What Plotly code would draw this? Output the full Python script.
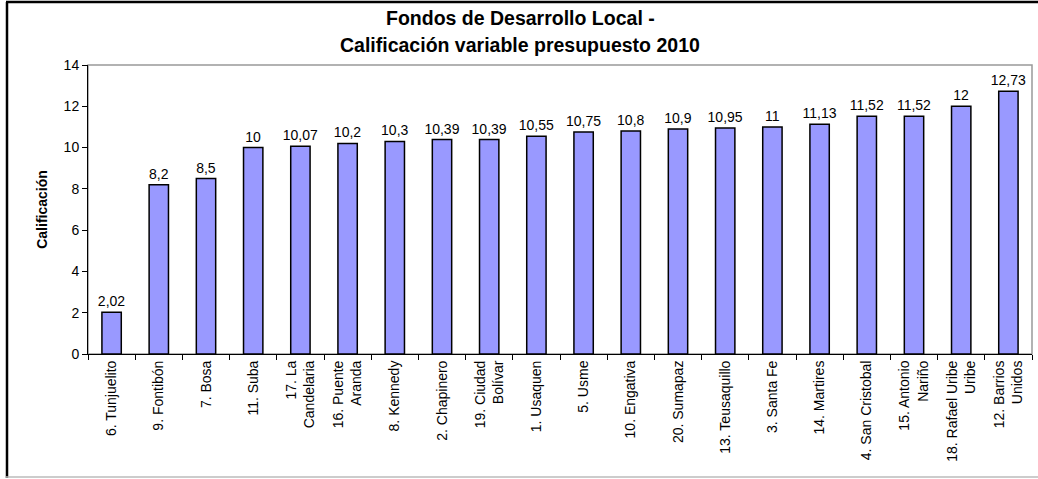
import plotly.graph_objects as go

categories = ["6. Tunjuelito", "9. Fontibón", "7. Bosa", "11. Suba", "17. La<br>Candelaria",
              "16. Puente<br>Aranda", "8. Kennedy", "2. Chapinero", "19. Ciudad<br>Bolívar",
              "1. Usaquen", "5. Usme", "10. Engativa", "20. Sumapaz", "13. Teusaquillo",
              "3. Santa Fe", "14. Martires", "4. San Cristobal", "15. Antonio<br>Nariño",
              "18. Rafael Uribe<br>Uribe", "12. Barrios<br>Unidos"]
values = [2.02, 8.2, 8.5, 10, 10.07, 10.2, 10.3, 10.39, 10.39, 10.55, 10.75, 10.8, 10.9,
          10.95, 11, 11.13, 11.52, 11.52, 12, 12.73]
y_ticks = [0, 2, 4, 6, 8, 10, 12, 14]
title_lines = ["Fondos de Desarrollo Local -", "Calificación variable presupuesto 2010"]
y_title = "Calificación"

labels = [f"{v:g}".replace(".", ",") for v in values]

W, H = 1038, 479
L, R, T, B = 88, 6, 65, 125
pw, ph = W - L - R, H - T - B

def px_x(p):
    return (p - L) / pw

def px_y(p):
    return (H - B - p) / ph

FONT = "Liberation Sans, Arial, sans-serif"

fig = go.Figure(go.Bar(
    x=categories, y=values, text=labels, textposition="outside",
    textfont=dict(family=FONT, size=14, color="black"),
    constraintext="none", cliponaxis=False,
    marker=dict(color="#9999FF", line=dict(color="black", width=1.5)),
))

fig.update_layout(
    width=W, height=H, margin=dict(l=L, r=R, t=T, b=B, autoexpand=False),
    paper_bgcolor="white", plot_bgcolor="white", bargap=0.59, showlegend=False,
    font=dict(family=FONT, color="black"),
)
fig.update_xaxes(tickangle=-90, tickfont=dict(size=14, family=FONT), showline=True,
                 linecolor="black", linewidth=1, ticks="outside", tickson="boundaries",
                 ticklen=5, tickcolor="black", showgrid=False, fixedrange=True)
fig.update_yaxes(range=[0, 14], tickvals=y_ticks, tickfont=dict(size=14, family=FONT),
                 showline=True, linecolor="black", linewidth=1, ticks="outside", ticklen=5,
                 tickcolor="black", showgrid=False, zeroline=False, fixedrange=True,
                 title=dict(text=f"<b>{y_title}</b>", font=dict(size=14, family=FONT), standoff=12))

shapes = [
    dict(type="rect", xref="paper", yref="paper", x0=0, x1=1, y0=0, y1=1,
         line=dict(color="#999999", width=1.5), layer="below"),
    dict(type="line", xref="paper", yref="paper", x0=px_x(7), x1=px_x(7), y0=px_y(2), y1=px_y(478),
         line=dict(color="black", width=2.5)),
    dict(type="line", xref="paper", yref="paper", x0=px_x(6), x1=px_x(1040), y0=px_y(2), y1=px_y(2),
         line=dict(color="black", width=2.5)),
    dict(type="line", xref="paper", yref="paper", x0=px_x(6), x1=px_x(1040), y0=px_y(477), y1=px_y(477),
         line=dict(color="#BBBBBB", width=1.5)),
]
fig.update_layout(shapes=shapes)

for line, py in zip(title_lines, [18, 45]):
    fig.add_annotation(text=f"<b>{line}</b>", xref="paper", yref="paper", x=px_x(520), y=px_y(py),
                       showarrow=False, xanchor="center", yanchor="middle",
                       font=dict(size=19.5, family=FONT, color="black"))

fig.write_html("out.html", config={"displayModeBar": False},
               post_script="document.body.style.margin='0';document.body.style.overflow='hidden';")
